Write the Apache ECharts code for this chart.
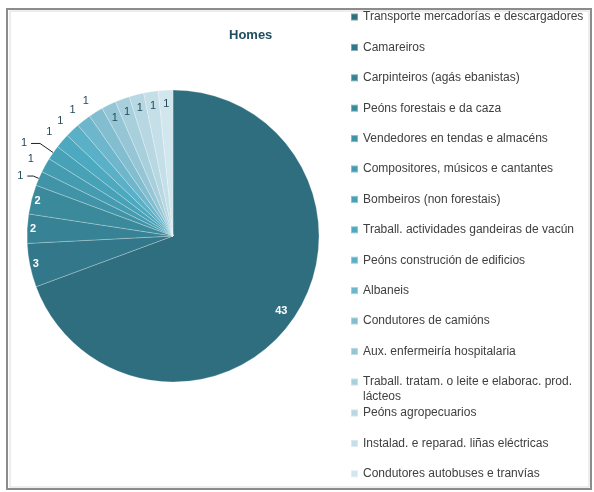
<!DOCTYPE html>
<html>
<head>
<meta charset="utf-8">
<script src="https://cdn.jsdelivr.net/npm/echarts@6/dist/echarts.min.js"></script>
<style>
html,body{margin:0;padding:0;background:#fff;}
#chart{width:594px;height:492px;}
</style>
</head>
<body>
<div id="chart"></div>
<script>
var categories = [
  'Transporte mercadorías e descargadores',
  'Camareiros',
  'Carpinteiros (agás ebanistas)',
  'Peóns forestais e da caza',
  'Vendedores en tendas e almacéns',
  'Compositores, músicos e cantantes',
  'Bombeiros (non forestais)',
  'Traball. actividades gandeiras de vacún',
  'Peóns construción de edificios',
  'Albaneis',
  'Condutores de camións',
  'Aux. enfermeiría hospitalaria',
  'Traball. tratam. o leite e elaborac. prod.\nlácteos',
  'Peóns agropecuarios',
  'Instalad. e reparad. liñas eléctricas',
  'Condutores autobuses e tranvías'
];
var values = [43, 3, 2, 2, 1, 1, 1, 1, 1, 1, 1, 1, 1, 1, 1, 1];
var colors = ['#2E6E7F','#33788A','#378294','#3B8A9C','#4194A7','#459CB0','#48A2B7','#4CA9BF',
              '#5AB0C6','#6DB6CB','#82BED0','#96C6D6','#A8CFDC','#B7D7E2','#C5DFE8','#D2E6ED'];

var FONT = 'Liberation Sans';
var CX = 173, CY = 236, R = 146;

// label placement groups (by index)
var outLineIdx = {4: [6, 6], 6: [16, 9]};
var outIdx = [5, 7, 8, 9, 10];
var ringBigIdx = [1, 2, 3];
var ringSmallIdx = [0, 11, 12, 13, 14, 15];

var mainData = categories.map(function (n, i) {
  var d = {name: n, value: values[i], itemStyle: {color: colors[i]}};
  if (outLineIdx[i]) {
    d.label = {show: true, distanceToLabelLine: 4};
    d.labelLine = {show: true, length: outLineIdx[i][0], length2: outLineIdx[i][1]};
  } else if (outIdx.indexOf(i) >= 0) {
    d.label = {show: true, distanceToLabelLine: 0};
    d.labelLine = {show: false, length: 13, length2: 0};
  } else {
    d.label = {show: false};
    d.labelLine = {show: false};
  }
  return d;
});

function ringData(showIdx) {
  return categories.map(function (n, i) {
    var d = {name: n, value: values[i]};
    var show = showIdx.indexOf(i) >= 0;
    var big = i <= 3;
    d.label = {
      show: show,
      color: big ? '#ffffff' : '#254B5A',
      fontWeight: big ? 'bold' : 'normal'
    };
    return d;
  });
}

function legendCfg(names, top, lineHeight, formatter) {
  var cfg = {
    orient: 'vertical',
    left: 350,
    top: top,
    padding: 0,
    icon: 'rect',
    itemWidth: 7,
    itemHeight: 7,
    itemGap: 16.4,
    selectedMode: false,
    textStyle: {fontFamily: FONT, fontSize: 12, color: '#404040', lineHeight: lineHeight || 14},
    data: names
  };
  if (formatter) cfg.formatter = formatter;
  return cfg;
}

var chart = echarts.init(document.getElementById('chart'), null, {renderer: 'canvas'});
chart.setOption({
  animation: false,
  backgroundColor: '#ffffff',
  title: {
    text: 'Homes',
    left: 224,
    top: 24,
    textStyle: {fontFamily: FONT, fontSize: 13, fontWeight: 'bold', color: '#1F4E60'}
  },
  legend: [
    legendCfg(categories.slice(0, 12), 10),
    legendCfg(categories.slice(12, 13), 359.5, 15, function (n) { return ' \n' + n; }),
    legendCfg(categories.slice(13), 406)
  ],
  graphic: [
    {type: 'rect', shape: {x: 7, y: 9, width: 584, height: 480}, style: {fill: 'none', stroke: '#8c8c8c', lineWidth: 2}, silent: true},
    {type: 'rect', shape: {x: 10, y: 11, width: 579, height: 476}, style: {fill: 'none', stroke: '#dcdcdc', lineWidth: 1}, silent: true}
  ],
  series: [
    {
      type: 'pie',
      center: [CX, CY],
      radius: R,
      startAngle: 90,
      clockwise: true,
      avoidLabelOverlap: false,
      itemStyle: {borderColor: 'rgba(255,255,255,0.35)', borderWidth: 0.7},
      label: {
        position: 'outside',
        formatter: '{c}',
        fontFamily: FONT,
        fontSize: 11,
        color: '#254B5A',
        alignTo: 'none'
      },
      labelLine: {lineStyle: {color: '#222', width: 1}, smooth: false},
      emphasis: {disabled: true},
      data: mainData
    },
    {
      type: 'pie',
      center: [CX, CY],
      radius: [128, R],
      startAngle: 90,
      silent: true,
      avoidLabelOverlap: false,
      itemStyle: {color: 'rgba(0,0,0,0)'},
      label: {position: 'inside', formatter: '{c}', fontFamily: FONT, fontSize: 11},
      labelLine: {show: false},
      emphasis: {disabled: true},
      data: ringData(ringBigIdx)
    },
    {
      type: 'pie',
      center: [CX, CY],
      radius: [112, R],
      startAngle: 90,
      silent: true,
      avoidLabelOverlap: false,
      itemStyle: {color: 'rgba(0,0,0,0)'},
      label: {position: 'inside', formatter: '{c}', fontFamily: FONT, fontSize: 11},
      labelLine: {show: false},
      emphasis: {disabled: true},
      data: ringData(ringSmallIdx)
    }
  ]
});
</script>
</body>
</html>
